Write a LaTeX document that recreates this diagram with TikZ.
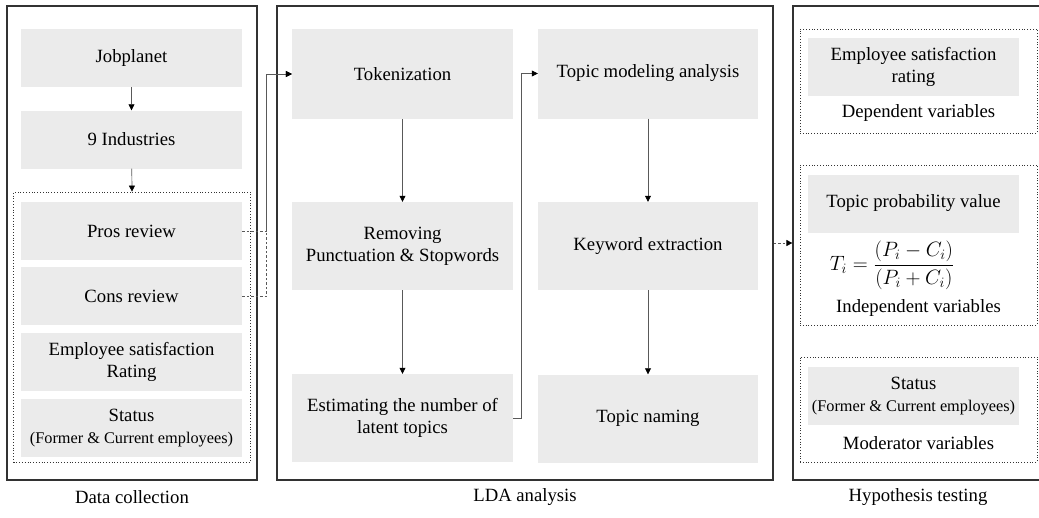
\documentclass[tikz,border=0pt]{standalone}
\usepackage{fontspec}
\setmainfont{Liberation Serif}
\newfontfamily\timesfont{Liberation Serif}
\usetikzlibrary{arrows.meta}
\definecolor{boxgray}{RGB}{235,235,235}
\definecolor{framegray}{RGB}{50,50,50}
\newcommand{\smalltxt}{\fontsize{16.3}{20}\selectfont}
\tikzset{
    graybox/.style={fill=boxgray, minimum width=221pt, minimum height=58pt, align=center, inner sep=0pt},
    framebox/.style={draw=framegray, line width=1.2pt, minimum width=250pt, minimum height=474pt, inner sep=0pt},
    dotbox/.style={draw=black!80, dotted, line width=0.8pt, minimum width=237pt, inner sep=0pt},
    conn/.style={draw=black!65, line width=0.7pt, -{Triangle[length=6pt,width=6pt,color=black]}},
    dashconn/.style={conn, dash pattern=on 2.5pt off 2pt}
}
\begin{document}
\begin{tikzpicture}[x=1pt, y=-1pt, every node/.style={font=\timesfont\fontsize{18.7}{22}\selectfont}]
    \useasboundingbox (0,0) rectangle (1039,517);

    % Riquadri esterni
    \node[framebox] (dc) at (132,243) {};
    \node[framebox, minimum width=496pt] (lda) at (525,243) {};
    \node[framebox, minimum width=247pt] (hyp) at (916.5,243) {};

    % Data collection
    \node[graybox] (job) at (131.5,58) {Jobplanet};
    \node[graybox] (ind) at (131.5,139.5) {9 Industries};
    \node[dotbox, minimum height=270pt] (rev) at (132,327) {};
    \node[graybox] (pros) at (131.5,231) {Pros review};
    \node[graybox] (cons) at (131.5,296) {Cons review};
    \node[graybox] (sat) at (131.5,362) {Employee satisfaction\\Rating};
    \node[graybox] (stat) at (131.5,428) {Status\\{\smalltxt (Former \& Current employees)}};

    % LDA analysis
    \node[graybox, minimum height=90pt] (tok) at (402.5,74) {Tokenization};
    \node[graybox, minimum height=88pt] (rem) at (402.5,246) {Removing\\Punctuation \& Stopwords};
    \node[graybox, minimum height=88pt] (est) at (402.5,418) {Estimating the number of\\latent topics};
    \node[graybox, minimum width=220pt, minimum height=90pt] (tma) at (648,73.5) {Topic modeling analysis};
    \node[graybox, minimum width=220pt, minimum height=88pt] (kw) at (648,246) {Keyword extraction};
    \node[graybox, minimum width=220pt, minimum height=88pt] (tn) at (648,418.5) {Topic naming};

    % Hypothesis testing
    \node[dotbox, minimum height=104pt] (dep) at (918.5,81) {};
    \node[dotbox, minimum height=160pt] (indep) at (918.5,245) {};
    \node[dotbox, minimum height=105pt] (mod) at (918.5,409.5) {};
    \node[graybox, minimum width=211pt] (esr) at (913.5,67) {Employee satisfaction\\rating};
    \node at (918.5,113) (deplbl) {Dependent variables};
    \node[graybox, minimum width=211pt] (tpv) at (913.5,203.5) {Topic probability value};
    \node[font=\fontsize{21}{24}\selectfont] at (892,265) (formula) {$\displaystyle T_i=\frac{(P_i-C_i)}{(P_i+C_i)}$};
    \node at (918.5,308) (indeplbl) {Independent variables};
    \node[graybox, minimum width=211pt] (hstat) at (913.5,396) {Status\\{\smalltxt (Former \& Current employees)}};
    \node at (918.5,443) (modlbl) {Moderator variables};

    % Titoli
    \node at (132,497) (dctitle) {Data collection};
    \node at (525,497) (ldatitle) {LDA analysis};
    \node at (918,497) (hyptitle) {Hypothesis testing};

    % Frecce
    \draw[conn] (job) -- (ind);
    \draw[conn] (ind) -- (rev.north);
    \draw[dashconn] (pros.east) -- ++(24.5,0) |- (tok.west);
    \draw[dashconn] (cons.east) -- ++(24.5,0) |- (tok.west);
    \draw[conn] (tok) -- (rem);
    \draw[conn] (rem) -- (est);
    \draw[conn] (est.east) -- ++(8.5,0) |- (tma.west);
    \draw[conn] (tma) -- (kw);
    \draw[conn] (kw) -- (tn);
    \draw[dashconn] (lda.east) -- (hyp.west);
\end{tikzpicture}
\end{document}
